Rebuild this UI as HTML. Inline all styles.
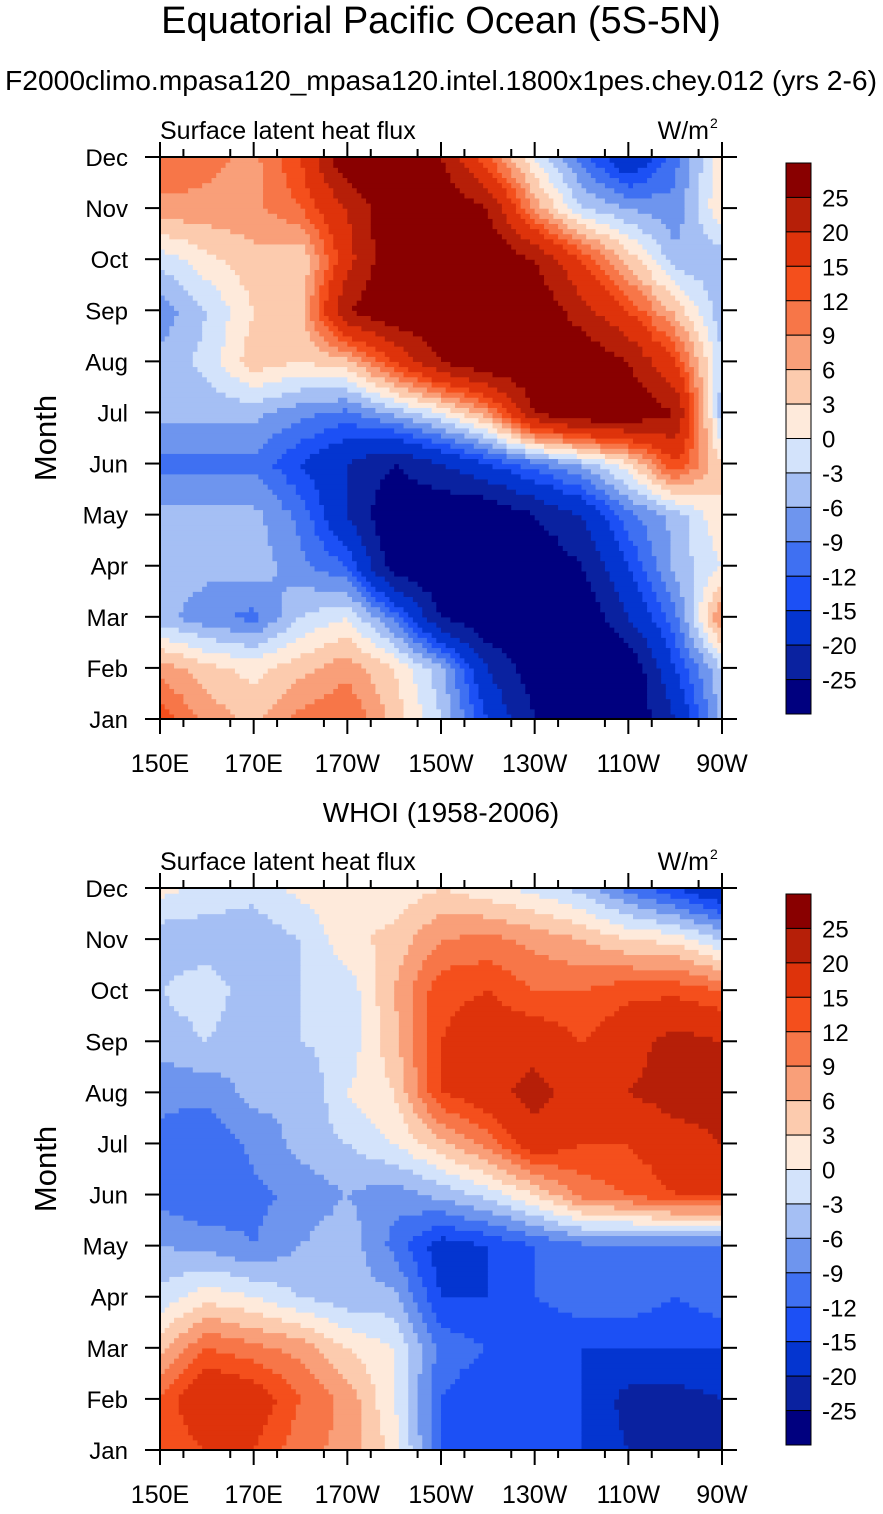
<!DOCTYPE html>
<html><head><meta charset="utf-8">
<style>
body{margin:0;background:#fff;font-family:"Liberation Sans",sans-serif;}
svg text{font-family:"Liberation Sans",sans-serif;fill:#000;}
</style></head>
<body>
<svg id="chart" width="883" height="1509" xmlns="http://www.w3.org/2000/svg">
<text x="441" y="33" font-size="38" text-anchor="middle">Equatorial Pacific Ocean (5S-5N)</text>
<text x="441" y="90" font-size="28" text-anchor="middle" textLength="872" lengthAdjust="spacingAndGlyphs">F2000climo.mpasa120_mpasa120.intel.1800x1pes.chey.012 (yrs 2-6)</text>
<text x="441" y="822" font-size="28" text-anchor="middle">WHOI (1958-2006)</text>
</svg>
<script>
const months=["Jan","Feb","Mar","Apr","May","Jun","Jul","Aug","Sep","Oct","Nov","Dec"];
const lonTicks=["150E","170E","170W","150W","130W","110W","90W"];
const levels=[-25,-20,-15,-12,-9,-6,-3,0,3,6,9,12,15,20,25];
const colors=["#00007f","#0a22a0","#0435d0","#1c50f5","#3f70f2","#6e95ee","#a5bff4","#d3e3fb","#feeadb","#fccbae","#f99f79","#f77648","#f44f1c","#de330b","#b61f08","#890000"];
// rows Jan..Dec, cols 150E..90W every 10 degrees
const modelData=[
[14,8,5,10,12,5,-3,-15,-25,-30,-30,-20,-5],
[8,4,2,5,8,3,-5,-20,-28,-30,-30,-15,-3],
[-5,-8,-10,-3,0,-10,-25,-30,-30,-30,-20,-10,10],
[-3,-5,-4,-8,-12,-28,-30,-30,-30,-25,-15,-5,0],
[-5,-5,-5,-10,-20,-30,-30,-30,-25,-20,-10,-5,3],
[-10,-10,-10,-15,-20,-25,-20,-15,-10,-5,2,15,3],
[-5,-5,-5,-8,-10,-5,0,8,25,30,30,25,-5],
[-5,-2,5,3,5,15,25,30,30,30,25,15,-3],
[-8,-3,3,5,25,30,30,30,30,22,15,5,-5],
[-2,2,5,3,18,30,30,30,25,15,5,-5,-5],
[8,8,8,12,20,30,30,25,8,-3,-6,-8,3],
[12,10,8,15,30,30,25,12,0,-10,-20,-10,2]];
const obsData=[
[12,15,15,10,8,2,-12,-15,-15,-15,-20,-25,-25],
[12,20,18,12,8,0,-12,-15,-15,-15,-22,-22,-20],
[5,12,10,8,3,0,-10,-12,-15,-15,-15,-15,-15],
[-2,2,0,-3,-5,-5,-15,-15,-12,-10,-10,-12,-10],
[-6,-7,-9,-6,-4,-10,-17,-15,-12,-10,-10,-10,-10],
[-10,-12,-10,-8,-6,-8,-5,-2,3,10,12,15,15],
[-10,-12,-8,-5,-3,0,5,10,18,15,15,18,20],
[-8,-8,-5,-6,0,3,15,18,22,17,20,22,22],
[-5,-3,-6,-3,-2,5,15,18,18,15,18,22,20],
[-3,-1,-5,-3,-2,6,14,15,12,12,14,14,12],
[-5,-5,-5,-3,2,4,9,10,8,6,3,2,-3],
[1,-1,-2,1,2,1,3,1,-1,-4,-10,-15,-20]];

const NS="http://www.w3.org/2000/svg";
const svg=document.getElementById('chart');
function mk(tag,attrs,parent){const e=document.createElementNS(NS,tag);for(const k in attrs)e.setAttribute(k,attrs[k]);(parent||svg).appendChild(e);return e;}
function colorFor(v){let i=0;while(i<levels.length&&v>=levels[i])i++;return colors[i];}

function panel(data,top,name){
  const L=160,R=722,T=top,B=top+562;
  const nc=data[0].length, nr=data.length;
  const xS=c=>L+(R-L)*c/(nc-1);
  const yS=r=>B-(B-T)*r/(nr-1);
  const g=mk('g',{});
  
  
  const sub=10;
  const NX=(nc-1)*sub, NY=(nr-1)*sub;
  for(let j=0;j<NY;j++){
    const rr=(j+0.5)/sub, r0=Math.floor(rr), fr=rr-r0;
    let runStart=0, runCol=null;
    for(let i=0;i<=NX;i++){
      let col=null;
      if(i<NX){
        const cc=(i+0.5)/sub, c0=Math.floor(cc), fc=cc-c0;
        const v=(1-fr)*((1-fc)*data[r0][c0]+fc*data[r0][c0+1])+fr*((1-fc)*data[r0+1][c0]+fc*data[r0+1][c0+1]);
        col=colorFor(v);
      }
      if(col!==runCol){
        if(runCol!==null){
          const x0=xS(runStart/sub), x1=xS(i/sub);
          const y1=yS(j/sub), y0=yS((j+1)/sub);
          const rc=mk('rect',{x:x0.toFixed(2),y:y0.toFixed(2),width:(x1-x0+0.6).toFixed(2),height:(y1-y0+0.6).toFixed(2),fill:runCol},g);
          
          
        }
        runStart=i;runCol=col;
      }
    }
  }
  const fr_=mk('rect',{x:L,y:T,width:R-L,height:B-T,fill:'none',stroke:'#000','stroke-width':2});
  
  
  months.forEach((m,r)=>{
    const y=yS(r);
    mk('line',{x1:L-15,y1:y,x2:L,y2:y,stroke:'#000','stroke-width':2});
    mk('line',{x1:R,y1:y,x2:R+15,y2:y,stroke:'#000','stroke-width':2});
    const t=mk('text',{x:128,y:y+9,'font-size':24,'text-anchor':'end'});
    t.textContent=m;
    
    
  });
  lonTicks.forEach((lab,k)=>{
    const x=L+(R-L)*k/(lonTicks.length-1);
    mk('line',{x1:x,y1:B,x2:x,y2:B+15,stroke:'#000','stroke-width':2});
    mk('line',{x1:x,y1:T,x2:x,y2:T-15,stroke:'#000','stroke-width':2});
    const t=mk('text',{x:x,y:B+53,'font-size':25,'text-anchor':'middle'});
    t.textContent=lab;
    
    
  });
  for(let k=0;k<12;k++){
    const x=L+(R-L)*(k+0.5)/12;
    mk('line',{x1:x,y1:B,x2:x,y2:B+8,stroke:'#000','stroke-width':2});
    mk('line',{x1:x,y1:T,x2:x,y2:T-8,stroke:'#000','stroke-width':2});
  }
  const yt=mk('text',{x:0,y:0,'font-size':31,'text-anchor':'middle',transform:`translate(56,${(T+B)/2}) rotate(-90)`});
  yt.textContent='Month';
  
  
  const lt=mk('text',{x:L,y:T-18,'font-size':25});
  lt.textContent='Surface latent heat flux';
  
  
  const rt=mk('text',{x:R-13,y:T-18,'font-size':25,'text-anchor':'end'});
  rt.textContent='W/m';
  
  
  const sp=mk('text',{x:R-12,y:T-29,'font-size':14});
  sp.textContent='2';
  // colorbar
  const cbT=T+6, cbB=B-5, bh=(cbB-cbT)/colors.length;
  const cg=mk('g',{});
  
  
  for(let i=0;i<colors.length;i++){
    const rc=mk('rect',{x:786,y:cbT+i*bh,width:25,height:bh,fill:colors[colors.length-1-i],stroke:'#000','stroke-width':1},cg);
    
    
  }
  for(let i=1;i<colors.length;i++){
    const lv=levels[levels.length-i];
    const t=mk('text',{x:822,y:cbT+i*bh+9,'font-size':24},cg);
    t.textContent=String(lv);
    
    
  }
}
panel(modelData,157,'model');
panel(obsData,888,'obs');
</script>
</body></html>
